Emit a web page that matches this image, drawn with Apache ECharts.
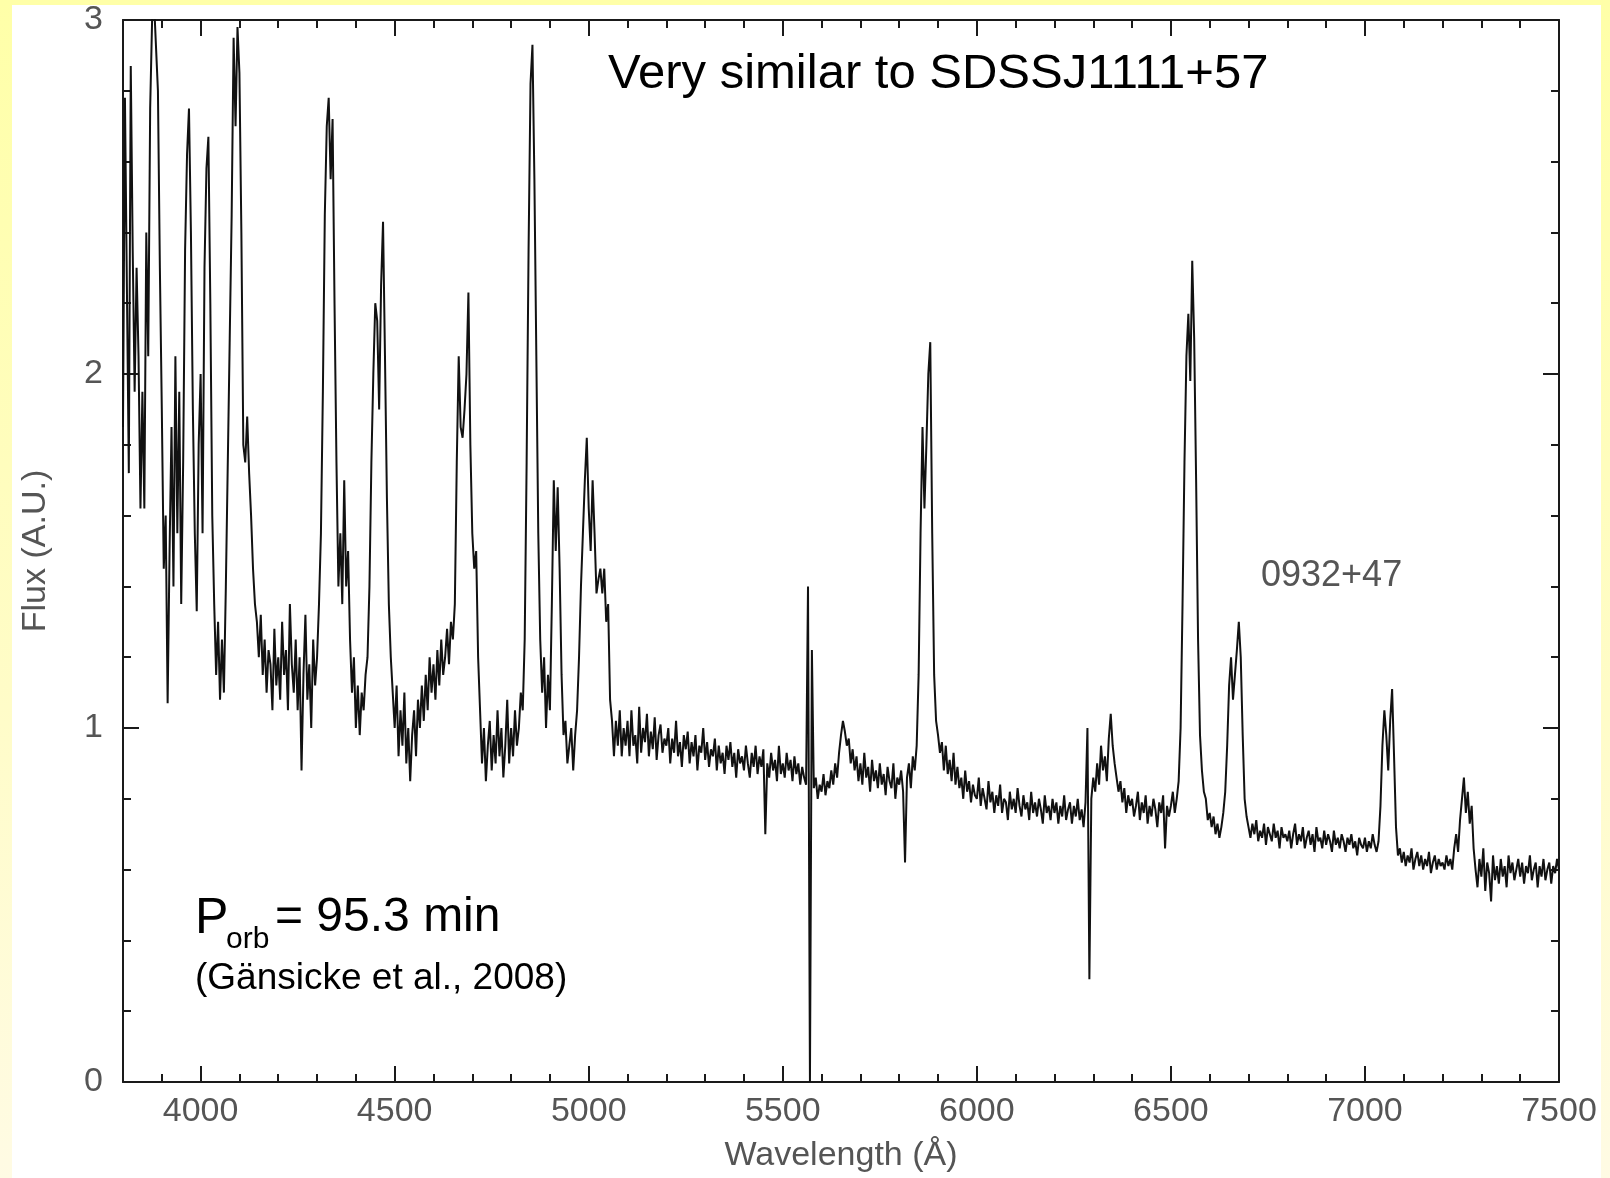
<!DOCTYPE html>
<html>
<head>
<meta charset="utf-8">
<title>0932+47 spectrum</title>
<script src="https://cdn.jsdelivr.net/npm/echarts@6/dist/echarts.min.js"></script>
<style>
  html, body { margin: 0; padding: 0; width: 1610px; height: 1178px; overflow: hidden; }
  body { background: linear-gradient(180deg, #ffffa8 0%, #fffcc8 60%, #fffbe4 100%); }
  #panel { position: absolute; left: 12px; top: 5px; width: 1589px; height: 1173px; background: #ffffff; }
  #chart { position: absolute; left: 0; top: 0; width: 1610px; height: 1178px; }
</style>
</head>
<body>
<div id="panel"></div>
<div id="chart"></div>
<script>
// Sampling grid of the spectrum (Angstrom)
const STEP = 5;

// Flux (A.U.) 3800–4395 Å: upper Balmer series, H-epsilon, He I 4026, H-delta, H-gamma
const fluxBlue = [
  1.85, 2.78, 2.25, 1.72, 2.87, 2.35, 1.95, 2.30, 2.05, 1.62,
  1.95, 1.62, 2.40, 2.05, 2.75, 3.00, 3.05, 3.05, 2.80, 2.30,
  1.90, 1.45, 1.60, 1.07, 1.50, 1.85, 1.40, 2.05, 1.55, 1.95,
  1.35, 1.75, 2.35, 2.62, 2.75, 2.40, 1.90, 1.55, 1.33, 1.80,
  2.00, 1.55, 2.30, 2.58, 2.67, 2.20, 1.60, 1.35, 1.15, 1.30,
  1.08, 1.25, 1.10, 1.40, 1.75, 2.10, 2.45, 2.95, 2.70, 2.98,
  2.85, 2.40, 1.80, 1.75, 1.88, 1.72, 1.60, 1.45, 1.35, 1.30,
  1.20, 1.32, 1.15, 1.25, 1.10, 1.22, 1.18, 1.05, 1.28, 1.12,
  1.20, 1.08, 1.30, 1.15, 1.22, 1.05, 1.35, 1.18, 1.10, 1.25,
  1.05, 1.20, 0.88, 1.15, 1.32, 1.08, 1.18, 1.00, 1.25, 1.12,
  1.20, 1.35, 1.55, 1.95, 2.45, 2.70, 2.78, 2.55, 2.72, 2.20,
  1.75, 1.40, 1.55, 1.35, 1.70, 1.40, 1.50, 1.25, 1.10, 1.20
];

// Flux 4400–5095 Å: He I 4471, He II 4686, H-beta, He I 4922 / 5016
const fluxBalmer = [
  1.00, 1.12, 0.98, 1.10, 1.05, 1.15, 1.20, 1.40, 1.75, 2.00,
  2.20, 2.15, 1.90, 2.25, 2.43, 2.05, 1.65, 1.35, 1.20, 1.10,
  1.00, 1.12, 0.92, 1.05, 0.95, 1.10, 0.90, 1.00, 0.85, 0.98,
  1.05, 0.92, 1.08, 1.00, 1.12, 1.02, 1.15, 1.05, 1.20, 1.10,
  1.18, 1.08, 1.22, 1.12, 1.25, 1.15, 1.20, 1.28, 1.18, 1.30,
  1.25, 1.35, 1.75, 2.05, 1.85, 1.82, 1.90, 2.00, 2.23, 1.80,
  1.55, 1.45, 1.50, 1.20, 1.05, 0.90, 1.00, 0.85, 0.95, 1.02,
  0.88, 0.98, 0.90, 1.05, 0.92, 1.00, 0.86, 0.95, 1.08, 0.90,
  1.00, 0.92, 1.05, 0.95, 1.00, 1.10, 1.05, 1.25, 1.75, 2.35,
  2.82, 2.93, 2.55, 2.05, 1.55, 1.25, 1.10, 1.20, 1.00, 1.15,
  1.05, 1.35, 1.70, 1.50, 1.68, 1.45, 1.15, 0.98, 1.02, 0.90,
  0.95, 1.00, 0.88, 0.98, 1.05, 1.20, 1.40, 1.55, 1.70, 1.82,
  1.62, 1.50, 1.70, 1.55, 1.38, 1.42, 1.45, 1.38, 1.45, 1.30,
  1.35, 1.08, 1.02, 0.92, 1.02, 0.95, 1.05, 0.92, 1.00, 0.95
];

// Flux 5100–5995 Å: continuum, 5577 sky residual, He I 5876
const fluxGreen = [
  1.02, 0.92, 1.05, 0.95, 0.98, 0.90, 1.06, 0.93, 1.00, 0.96,
  1.04, 0.92, 0.99, 0.94, 1.03, 0.91, 0.98, 1.01, 0.93, 0.97,
  0.95, 1.00, 0.90, 0.97, 0.93, 1.02, 0.92, 0.96, 0.89, 0.98,
  0.94, 0.99, 0.90, 0.96, 0.92, 0.98, 0.88, 0.95, 0.93, 1.00,
  0.91, 0.96, 0.89, 0.94, 0.92, 0.97, 0.88, 0.95, 0.90, 0.93,
  0.87, 0.95, 0.91, 0.96, 0.89, 0.93, 0.86, 0.94, 0.90, 0.92,
  0.88, 0.95, 0.90, 0.86, 0.93, 0.89, 0.95, 0.87, 0.92, 0.89,
  0.94, 0.70, 0.90, 0.86, 0.93, 0.88, 0.91, 0.85, 0.95, 0.87,
  0.90, 0.86, 0.93, 0.88, 0.91, 0.85, 0.92, 0.87, 0.90, 0.84,
  0.89, 0.86, 0.84, 1.40, 0.00, 1.22, 0.83, 0.86, 0.80, 0.84,
  0.82, 0.87, 0.81, 0.85, 0.83, 0.88, 0.84, 0.90, 0.86, 0.93,
  0.98, 1.02, 0.99, 0.95, 0.97, 0.90, 0.94, 0.88, 0.92, 0.85,
  0.90, 0.84, 0.93, 0.86, 0.89, 0.82, 0.91, 0.85, 0.88, 0.83,
  0.90, 0.84, 0.87, 0.81, 0.89, 0.85, 0.83, 0.90, 0.80, 0.86,
  0.84, 0.88, 0.82, 0.62, 0.86, 0.90, 0.83, 0.92, 0.88, 0.95,
  1.15, 1.55, 1.85, 1.62, 1.80, 2.00, 2.09, 1.55, 1.15, 1.02,
  0.98, 0.93, 0.96, 0.88, 0.95, 0.87, 0.91, 0.85, 0.93, 0.84,
  0.89, 0.83, 0.86, 0.80, 0.88, 0.82, 0.85, 0.79, 0.84, 0.81
];

// Flux 6000–6795 Å: [O I] 6300 residual, H-alpha, He I 6678
const fluxRed = [
  0.80, 0.86, 0.78, 0.83, 0.80, 0.77, 0.85, 0.79, 0.82, 0.76,
  0.81, 0.78, 0.84, 0.76, 0.80, 0.79, 0.74, 0.82, 0.77, 0.80,
  0.76, 0.83, 0.78, 0.75, 0.81, 0.77, 0.79, 0.74, 0.82, 0.76,
  0.79, 0.75, 0.80, 0.77, 0.73, 0.81, 0.76, 0.78, 0.74, 0.80,
  0.76, 0.79, 0.73, 0.78, 0.75, 0.81, 0.74, 0.77, 0.79, 0.73,
  0.78, 0.75, 0.80, 0.74, 0.77, 0.72, 0.79, 1.00, 0.29, 0.80,
  0.86, 0.82, 0.90, 0.84, 0.95, 0.88, 0.92, 0.85, 0.97, 1.04,
  0.95, 0.90, 0.86, 0.82, 0.85, 0.79, 0.83, 0.76, 0.81, 0.78,
  0.80, 0.75, 0.78, 0.82, 0.74, 0.79, 0.76, 0.81, 0.73, 0.78,
  0.75, 0.80, 0.77, 0.72, 0.79, 0.76, 0.81, 0.66, 0.78, 0.75,
  0.78, 0.82, 0.76, 0.80, 0.85, 1.00, 1.35, 1.75, 2.05, 2.17,
  1.98, 2.32, 2.10, 1.70, 1.25, 0.98, 0.88, 0.82, 0.80, 0.74,
  0.76, 0.72, 0.75, 0.70, 0.73, 0.69, 0.72, 0.76, 0.82, 0.95,
  1.12, 1.20, 1.08, 1.15, 1.22, 1.30, 1.20, 0.98, 0.80, 0.75,
  0.72, 0.69, 0.73, 0.70, 0.74, 0.68, 0.71, 0.69, 0.73, 0.67,
  0.72, 0.70, 0.68, 0.73, 0.69, 0.71, 0.66, 0.72, 0.69, 0.70
];

// Flux 6800–7500 Å: He I 7065, He I 7281
const fluxFar = [
  0.68, 0.71, 0.66, 0.70, 0.73, 0.67, 0.70, 0.68, 0.72, 0.66,
  0.69, 0.71, 0.67, 0.70, 0.65, 0.72, 0.68, 0.69, 0.66, 0.71,
  0.67, 0.70, 0.68, 0.65, 0.71, 0.67, 0.69, 0.66, 0.70, 0.68,
  0.65, 0.69, 0.67, 0.70, 0.66, 0.68, 0.64, 0.69, 0.67, 0.66,
  0.69, 0.65, 0.68, 0.66, 0.70, 0.67, 0.65, 0.68, 0.78, 0.95,
  1.05, 0.98, 0.88, 1.02, 1.11, 0.92, 0.72, 0.64, 0.66, 0.62,
  0.65, 0.61, 0.64, 0.62, 0.66, 0.60, 0.63, 0.65, 0.61, 0.64,
  0.60, 0.63, 0.61, 0.65, 0.59, 0.62, 0.64, 0.60, 0.63, 0.61,
  0.62, 0.60, 0.64, 0.61, 0.63, 0.60, 0.66, 0.70, 0.65, 0.74,
  0.80, 0.86, 0.76, 0.82, 0.73, 0.78, 0.66, 0.60, 0.55, 0.63,
  0.58, 0.66, 0.54, 0.62, 0.59, 0.51, 0.64, 0.57, 0.61, 0.56,
  0.63, 0.58, 0.61, 0.55, 0.64, 0.59, 0.62, 0.57, 0.60, 0.63,
  0.58, 0.62, 0.56, 0.61, 0.59, 0.64, 0.57, 0.60, 0.62, 0.55,
  0.61, 0.58, 0.63, 0.57, 0.60, 0.62, 0.56, 0.61, 0.59, 0.63,
  0.60
];

// Start wavelength of each block
const blockStarts = [3800, 4400, 5100, 6000, 6800];

// Axis ranges and labelled ticks
const X_MIN = 3800, X_MAX = 7500;
const Y_MIN = 0, Y_MAX = 3;
const xMajorTicks = [4000, 4500, 5000, 5500, 6000, 6500, 7000, 7500];

// Build [wavelength, flux] pairs
const blocks = [fluxBlue, fluxBalmer, fluxGreen, fluxRed, fluxFar];
const spectrum = [];
blocks.forEach((arr, b) => {
  arr.forEach((f, i) => spectrum.push([blockStarts[b] + i * STEP, f]));
});

const INK = '#1a1a1a';
const LABEL = '#555555';
const FONT = '"Liberation Sans", Arial, sans-serif';
const plain = (v) => String(v);

const frameLine = { show: true, lineStyle: { color: INK, width: 2 } };
const minorX = (pos) => ({
  type: 'value', position: pos, min: X_MIN, max: X_MAX, interval: 100,
  axisLine: frameLine,
  axisTick: { show: true, inside: true, length: 8, lineStyle: { color: INK, width: 2 } },
  axisLabel: { show: false }, splitLine: { show: false }
});
const majorX = (pos, withLabels) => ({
  type: 'value', position: pos, min: X_MIN, max: X_MAX,
  axisLine: { show: false },
  axisTick: { show: true, inside: true, length: 16, customValues: xMajorTicks, lineStyle: { color: INK, width: 2 } },
  axisLabel: withLabels
    ? { show: true, customValues: xMajorTicks, formatter: plain, margin: 13, fontSize: 34, color: LABEL, fontFamily: FONT }
    : { show: false },
  splitLine: { show: false },
  name: withLabels ? 'Wavelength (Å)' : '',
  nameLocation: 'middle', nameGap: 57,
  nameTextStyle: { fontSize: 34, color: LABEL, fontFamily: FONT }
});
const yAxisDef = (pos, withLabels) => ({
  type: 'value', position: pos, min: Y_MIN, max: Y_MAX, interval: 1,
  axisLine: frameLine,
  axisTick: { show: true, inside: true, length: 16, lineStyle: { color: INK, width: 2 } },
  minorTick: { show: true, splitNumber: 5, length: 8, lineStyle: { color: INK, width: 2 } },
  axisLabel: withLabels
    ? { show: true, formatter: plain, margin: 20, fontSize: 34, color: LABEL, fontFamily: FONT }
    : { show: false },
  splitLine: { show: false }, minorSplitLine: { show: false },
  name: withLabels ? 'Flux (A.U.)' : '',
  nameLocation: 'middle', nameGap: 70,
  nameTextStyle: { fontSize: 34, color: LABEL, fontFamily: FONT }
});

const chart = echarts.init(document.getElementById('chart'), null, { renderer: 'canvas' });
chart.setOption({
  animation: false,
  backgroundColor: 'transparent',
  grid: { left: 123, top: 20, width: 1436, height: 1065 },
  xAxis: [minorX('bottom'), majorX('bottom', true), minorX('top'), majorX('top', false)],
  yAxis: [yAxisDef('left', true), yAxisDef('right', false)],
  series: [{
    type: 'line',
    xAxisIndex: 0, yAxisIndex: 0,
    data: spectrum,
    showSymbol: false,
    clip: true,
    lineStyle: { color: '#111111', width: 2 },
    z: 3
  }],
  graphic: [
    { type: 'text', left: 608, top: 50,
      style: { text: 'Very similar to SDSSJ1111+57', fill: '#000', font: '49px "Liberation Sans", Arial, sans-serif' } },
    { type: 'text', left: 1261, top: 558,
      style: { text: '0932+47', fill: LABEL, font: '36px "Liberation Sans", Arial, sans-serif' } },
    { type: 'text', left: 195, top: 894,
      style: { text: 'P', fill: '#000', font: '50px "Liberation Sans", Arial, sans-serif' } },
    { type: 'text', left: 226, top: 925,
      style: { text: 'orb', fill: '#000', font: '30px "Liberation Sans", Arial, sans-serif' } },
    { type: 'text', left: 275, top: 894,
      style: { text: '= 95.3 min', fill: '#000', font: '48px "Liberation Sans", Arial, sans-serif' } },
    { type: 'text', left: 195, top: 960,
      style: { text: '(Gänsicke et al., 2008)', fill: '#000', font: '37px "Liberation Sans", Arial, sans-serif' } }
  ]
});
</script>
</body>
</html>
